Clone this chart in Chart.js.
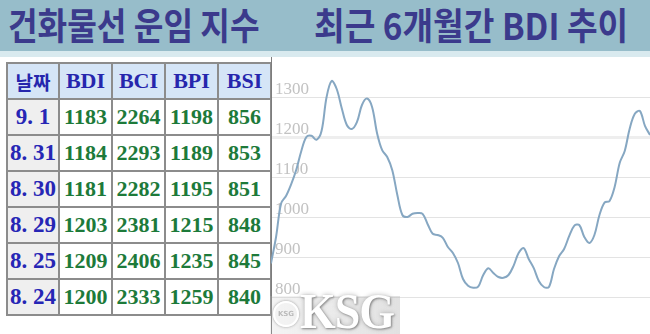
<!DOCTYPE html>
<html>
<head>
<meta charset="utf-8">
<script src="https://cdn.jsdelivr.net/npm/chart.js@4/dist/chart.umd.min.js"></script>
<style>
  html, body { margin: 0; padding: 0; background: #fff; }
  body { width: 650px; height: 334px; position: relative; overflow: hidden; }
  #title {
    position: absolute; left: 0; top: 0; width: 650px; height: 51px;
    background: #97bdca; border-bottom: 6px solid #d9eaef;
    font-family: "Noto Sans CJK KR", sans-serif; font-weight: 700;
    color: #3b3a8c; font-size: 37px; line-height: 51px; white-space: nowrap;
  }
  #title span { position: absolute; top: -1px; transform: scaleX(0.87); transform-origin: left center; }
  #title span.r { transform: scaleX(0.9); }
  #tbl {
    position: absolute; left: 6px; top: 62px; border-collapse: collapse;
  }
  #tbl td, #tbl th {
    border: 2px solid #8c8c8c; height: 34px; padding: 0; text-align: center;
    font-family: "Liberation Serif", serif; font-weight: 700; font-size: 22px;
  }
  #tbl th { background: #d5e5f7; color: #2626ad; }
  #tbl th.kr { font-family: "Noto Sans CJK KR", sans-serif; font-size: 19px; }
  #tbl td.d { background: #efefef; color: #2626b5; width: 50px; font-size: 23px; }
  #tbl td.v { color: #1d7a3a; width: 51px; }
  #wrap { position: absolute; left: 271px; top: 57px; width: 379px; height: 280px; }
  #wm {
    position: absolute; left: 270px; top: 296px; width: 130px; height: 38px;
    background: linear-gradient(90deg, rgba(200,200,200,0.2), rgba(180,180,180,0.4));
  }
  #wm .ic {
    position: absolute; left: 3px; top: 5px; width: 22px; height: 22px; border-radius: 50%;
    border: 2px solid #fff; box-shadow: 0 0 3px #999;
    font: 700 7px "DejaVu Sans", sans-serif; color: #bbb; text-align: center; line-height: 22px;
  }
  #wm .tx {
    position: absolute; left: 30px; top: -9px; transform: scaleY(1.1); transform-origin: left bottom;
    font: 700 46px "Liberation Serif", serif; color: #fff; letter-spacing: -1px;
    text-shadow: 1px 1px 2px #8a8a8a, 0 0 5px #b0b0b0;
  }
</style>
</head>
<body>
<div id="title"><span style="left:8px">건화물선 운임 지수</span><span class="r" style="left:314px">최근 6개월간 BDI 추이</span></div>
<table id="tbl"></table>
<div id="wrap"><canvas id="bdiChart" width="379" height="280"></canvas></div>
<div id="wm"><div class="ic">KSG</div><div class="tx">KSG</div></div>
<script>
// table data
var headers = ['날짜', 'BDI', 'BCI', 'BPI', 'BSI'];
var dates = ['9. 1', '8. 31', '8. 30', '8. 29', '8. 25', '8. 24'];
var bdi = [1183, 1184, 1181, 1203, 1209, 1200];
var bci = [2264, 2293, 2282, 2381, 2406, 2333];
var bpi = [1198, 1189, 1195, 1215, 1235, 1259];
var bsi = [856, 853, 851, 848, 845, 840];

// 6 month BDI trend
var bdiTrend = [884, 950, 1034, 1053, 1082, 1118, 1165, 1200, 1203, 1193,
  1215, 1300, 1340, 1320, 1272, 1230, 1220, 1237, 1280, 1296,
  1275, 1209, 1167, 1150, 1117, 1055, 1005, 1000, 1008, 1010,
  1008, 982, 958, 955, 948, 925, 910, 885, 845, 828,
  823, 826, 855, 872, 860, 850, 848, 855, 878, 910,
  922, 895, 872, 840, 825, 825, 870, 902, 920, 952,
  978, 980, 950, 935, 955, 1005, 1036, 1040, 1075, 1135,
  1165, 1222, 1258, 1265, 1228, 1205];
var trendLabels = bdiTrend.map(function (v, i) { return i; });
var yTicks = [800, 900, 1000, 1100, 1200, 1300];

var tbl = document.getElementById('tbl');
var html = '<tr>';
headers.forEach(function (h, i) {
  html += '<th' + (i === 0 ? ' class="kr"' : '') + '>' + h + '</th>';
});
html += '</tr>';
dates.forEach(function (d, i) {
  html += '<tr><td class="d">' + d + '</td><td class="v">' + bdi[i] + '</td><td class="v">' + bci[i] +
    '</td><td class="v">' + bpi[i] + '</td><td class="v">' + bsi[i] + '</td></tr>';
});
tbl.innerHTML = html;

var ctx = document.getElementById('bdiChart').getContext('2d');
var bdiChart = new Chart(ctx, {
  type: 'line',
  data: {
    labels: trendLabels,
    datasets: [{
      data: bdiTrend,
      borderColor: '#86a7c2',
      borderWidth: 2,
      pointRadius: 0,
      tension: 0.35,
      fill: false
    }]
  },
  options: {
    responsive: false,
    animation: false,
    layout: { padding: 0 },
    plugins: { legend: { display: false }, tooltip: { enabled: false } },
    scales: {
      x: { display: false, offset: false },
      y: {
        min: 700,
        max: 1400,
        afterBuildTicks: function (scale) {
          scale.ticks = yTicks.map(function (v) { return { value: v }; });
        },
        afterFit: function (scale) {
          // labels sit inside the plot, axis takes no room
          scale.width = 0;
          scale.paddingTop = 0;
          scale.paddingBottom = 0;
        },
        border: { display: true, color: '#7d7d7d', width: 2 },
        grid: {
          drawTicks: false,
          color: function (c) { return c.tick && c.tick.value === 1200 ? '#eeeeee' : '#e3e3e3'; },
          lineWidth: function (c) { return c.tick && c.tick.value === 1200 ? 3 : 1; }
        },
        ticks: {
          mirror: true,
          padding: 4,
          labelOffset: -7,
          color: '#c2c2c2',
          font: { family: 'Liberation Serif', size: 17 },
          callback: function (v) { return String(v); }
        }
      }
    }
  }
});
</script>
</body>
</html>
